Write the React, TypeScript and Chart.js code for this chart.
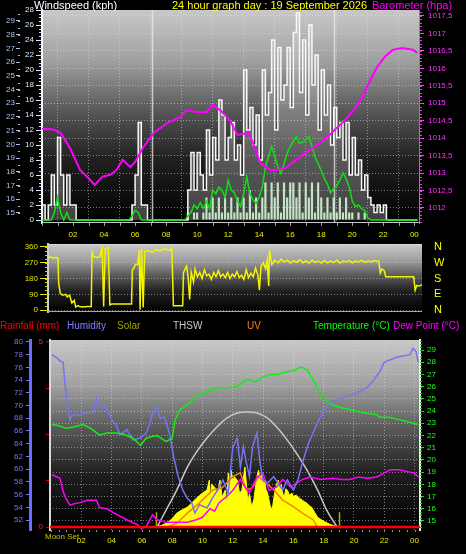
import React, { useEffect, useRef } from "react";
import { Chart, registerables } from "chart.js";

Chart.register(...registerables);

const FONT = "'Liberation Sans', Arial, Helvetica, sans-serif";
Chart.defaults.font.family = FONT;

// ================= TOP PANEL: wind speed (kph) and barometer (hPa) =================
const windStepHours = 0.2; // one reading every 12 minutes, starting at 00:00
const gustKph = [
  2, 0, 2, 6, 2, 11, 6, 2, 6, 2, 2, 0,
  0, 0, 0, 0, 0, 0, 0, 0, 0, 0, 0, 0, 0, 0, 0, 0, 0,
  2, 6, 13, 2, 2,
  0, 0, 0, 0, 0, 0, 0, 0, 0, 0, 0, 0, 0,
  4, 9, 4, 9, 6, 4, 12, 6, 11, 8, 16, 14, 8, 11, 13, 8, 10, 6, 20, 12, 15, 10, 14, 8, 20, 14, 17, 24, 12, 23, 16, 18,
  23, 15, 25, 27.6, 17, 24, 14, 26, 18, 22, 12, 20, 14, 18, 10, 15, 11, 13, 8, 13, 6, 11, 6, 8, 4, 6, 3, 2, 1, 2, 1, 2,
  0, 0, 0, 0, 0, 0, 0, 0, 0, 0, 0,
];
const avgKph = [
  0, 0, 0, 0, 0, 0, 0, 0, 0, 0, 0, 0,
  0, 0, 0, 0, 0, 0, 0, 0, 0, 0, 0, 0, 0, 0, 0, 0, 0,
  0, 0, 0, 0, 0,
  0, 0, 0, 0, 0, 0, 0, 0, 0, 0, 0, 0, 0,
  1, 0, 1, 1, 0, 1,
  3, 1, 3, 1, 3, 1, 3, 1, 3, 1, 3, 1, 3, 1, 4, 1, 3, 1, 3, 5,
  1, 5, 3, 5, 1, 5, 3, 5, 5, 3, 5, 1, 5, 3, 5, 1, 5, 3, 1, 3,
  1, 3, 1, 3, 1, 3, 1, 1, 0, 1, 0, 1,
  0, 0, 0, 0, 0, 0, 0, 0, 0, 0, 0, 0, 0, 0, 0, 0, 0,
];
const speedKph = [
  0, 0, 0, 0, 1, 3, 1, 0, 1, 0, 0, 0,
  0, 0, 0, 0, 0, 0, 0, 0, 0, 0, 0, 0, 0, 0, 0, 0, 0,
  0.5, 1.3, 1, 0, 0,
  0, 0, 0, 0, 0, 0, 0, 0, 0, 0, 0, 0, 0,
  0.5, 1, 2, 1.5, 2.3, 1.5, 2.5, 1.5, 4, 3.5, 4.4, 4, 3, 5.3, 4, 3.6, 2.5, 1.8, 3.5, 5.8,
  3.5, 2.7, 2.2, 3, 4.4, 7, 8.5, 9.8, 8.5, 7.1, 6.2, 7.5, 8.9, 9.8, 10.5, 11.1, 10.2, 10.4, 10.7, 11.1,
  9.8, 8.4, 7.5, 6.6, 5.5, 4.8, 3.6, 4.2, 4.6, 5.3, 6.3, 5.5, 4.4, 2.5, 1.8, 2, 1.5, 1.3, 0.3,
  0, 0, 0, 0, 0, 0, 0, 0, 0, 0, 0, 0, 0, 0, 0, 0,
];
const baroReadings: [number, number][] = [
  [0, 1014.27], [0.7, 1014.25], [1.2, 1014.15], [1.8, 1013.72], [2.45, 1013.09], [2.9, 1012.9],
  [3.4, 1012.66], [3.9, 1012.9], [4.4, 1012.95], [4.8, 1013.09], [5.2, 1013.38], [5.7, 1013.17],
  [6.0, 1013.32], [6.5, 1013.72], [7.2, 1014.15], [8.1, 1014.44], [8.9, 1014.6], [9.3, 1014.8],
  [10.0, 1014.75], [10.6, 1014.75], [11.0, 1014.95], [11.5, 1014.8], [12.1, 1014.52], [12.6, 1014.09],
  [13.0, 1014.12], [13.3, 1014.18], [13.6, 1013.86], [14.06, 1013.29], [14.7, 1013.09], [15.3, 1013.1],
  [15.8, 1013.17], [16.3, 1013.35], [16.8, 1013.52], [17.4, 1013.7], [17.9, 1013.86], [18.5, 1014.08],
  [19.0, 1014.29], [19.6, 1014.55], [20.1, 1014.81], [20.5, 1015.05], [20.8, 1015.32], [21.2, 1015.7],
  [21.6, 1016.04], [22.1, 1016.33], [22.6, 1016.53], [23.2, 1016.58], [23.6, 1016.55], [23.9, 1016.53],
  [24.2, 1016.44],
];
const topDayLines = [7.1, 18.8];

// ================= MIDDLE PANEL: wind direction (degrees) =================
const dirReadings: [number, number][] = [
  [0.06, 300], [0.2, 303], [0.4, 297], [0.6, 300], [0.7, 297], [0.75, 154], [0.85, 95], [1.0, 85], [1.2, 90],
  [1.3, 75], [1.45, 85], [1.6, 40], [1.75, 55], [1.85, 17], [2.0, 25], [2.1, 20], [2.3, 18], [2.6, 20],
  [2.85, 20], [2.9, 330], [3.0, 305], [3.2, 300], [3.4, 305], [3.55, 355], [3.65, 20], [3.75, 350],
  [3.95, 355], [4.05, 30], [4.2, 35], [4.8, 35], [5.45, 35], [5.5, 229], [5.6, 240], [5.7, 262], [5.85, 258],
  [5.95, 345], [6.0, 2], [6.1, 350], [6.2, 15], [6.3, 335], [6.5, 340], [6.8, 330], [7.0, 345], [7.3, 338],
  [7.6, 350], [7.9, 340], [8.05, 355], [8.15, 25], [8.5, 25], [8.75, 25], [8.8, 215], [9.0, 250], [9.1, 190],
  [9.2, 60], [9.3, 215], [9.45, 160], [9.55, 235], [9.7, 190], [9.85, 215], [10.0, 180], [10.15, 230],
  [10.3, 195], [10.45, 205], [10.6, 175], [10.75, 215], [10.9, 190], [11.05, 225], [11.2, 190], [11.35, 205],
  [11.5, 185], [11.65, 215], [11.8, 180], [11.95, 205], [12.1, 190], [12.25, 220], [12.4, 185], [12.55, 200],
  [12.7, 175], [12.85, 230], [13.0, 185], [13.15, 210], [13.3, 190], [13.45, 240], [13.6, 200], [13.7, 114],
  [13.8, 250], [13.95, 270], [14.1, 235], [14.2, 285], [14.3, 137], [14.35, 343], [14.5, 260], [14.7, 285],
  [14.9, 270], [15.1, 290], [15.3, 275], [15.5, 285], [15.7, 268], [15.9, 282], [16.1, 272], [16.3, 288],
  [16.5, 270], [16.7, 280], [16.9, 268], [17.1, 285], [17.3, 272], [17.5, 280], [17.7, 268], [17.9, 283],
  [18.1, 270], [18.3, 280], [18.5, 272], [18.7, 285], [18.9, 268], [19.1, 280], [19.3, 275], [19.5, 282],
  [19.7, 270], [19.9, 280], [20.1, 275], [20.3, 285], [20.5, 272], [20.7, 280], [20.9, 275], [21.1, 283],
  [21.3, 278], [21.4, 280], [21.5, 212], [21.6, 235], [21.75, 225], [21.85, 190], [22.5, 190], [23.2, 190],
  [23.65, 190], [23.75, 114], [23.85, 140], [24.0, 137], [24.2, 145],
];
const compassLabels: Record<number, string> = { 0: "N", 90: "E", 180: "S", 270: "W", 360: "N" };

// ================= BOTTOM PANEL =================
const humidityReadings: [number, number][] = [
  [0.05, 78], [0.4, 77.5], [0.6, 77], [0.8, 76.8], [0.9, 74], [1.0, 72], [1.1, 70], [1.25, 67.7], [1.4, 68.5],
  [2.0, 68.5], [2.1, 68.8], [2.8, 68.8], [2.9, 70], [3.0, 71], [3.1, 69.8], [3.6, 69.8], [3.8, 68.8],
  [4.1, 67.4], [4.3, 67], [4.55, 65.4], [5.0, 66.2], [5.4, 64.6], [5.9, 64.9], [6.3, 65.7], [6.5, 67],
  [6.7, 68.8], [7.0, 69.8], [7.2, 68], [7.5, 68.2], [7.85, 65.4], [8.1, 61.9], [8.4, 58.8], [8.7, 56.7],
  [9.0, 55.4], [9.3, 54.7], [9.5, 53.1], [9.8, 54.4], [10.3, 53.9], [10.7, 55.6], [11.0, 56.7], [11.35, 58.3],
  [11.7, 56.2], [12.0, 63.5], [12.3, 64.9], [12.5, 60.3], [12.7, 63.5], [12.9, 61], [13.1, 58.8], [13.3, 63.5],
  [13.6, 65.7], [13.8, 61], [14.0, 58.3], [14.3, 57.8], [14.7, 58.8], [15.0, 57.8], [15.3, 56.7], [15.6, 58.3],
  [16.0, 56.7], [16.3, 58.3], [16.6, 61], [17.0, 64.1], [17.3, 65.7], [17.6, 67.3], [17.95, 69], [18.4, 70.4],
  [18.9, 70.9], [19.5, 71.4], [20.2, 72], [20.9, 72.9], [21.3, 74], [21.7, 75.3], [22.0, 76.8], [22.8, 77.6],
  [23.7, 78], [23.9, 79], [24.1, 78.5], [24.25, 76.8],
];
const temperatureReadings: [number, number][] = [
  [0.05, 22.9], [0.5, 22.8], [1.0, 22.6], [1.5, 22.7], [2.1, 22.9], [2.6, 22.6], [3.2, 22.05], [3.7, 22.2],
  [4.3, 22.2], [4.8, 22.1], [5.4, 21.8], [5.9, 21.2], [6.3, 21.8], [7.0, 22.0], [7.6, 21.5], [8.0, 21.8],
  [8.2, 23.3], [8.5, 24.1], [9.0, 24.5], [9.6, 25.2], [10.3, 25.6], [10.9, 25.9], [11.6, 25.9], [12.3, 26.0],
  [12.9, 26.6], [13.5, 26.4], [14.0, 26.8], [14.5, 27.0], [15.0, 27.0], [15.5, 27.2], [16.0, 27.3], [16.5, 27.6],
  [16.9, 27.4], [17.3, 26.6], [17.6, 25.8], [17.9, 25.2], [18.2, 24.8], [18.6, 24.5], [19.1, 24.3], [19.8, 24.1],
  [20.4, 23.9], [21.5, 23.7], [21.7, 23.5], [22.3, 23.5], [23.0, 23.3], [23.6, 23.1], [24.25, 22.9],
];
const dewPointReadings: [number, number][] = [
  [0.05, 18.8], [0.4, 18.6], [0.6, 18.5], [0.8, 17.4], [1.0, 16.8], [1.25, 16.3], [1.5, 16.4], [1.9, 16.5],
  [2.4, 16.7], [3.0, 16.7], [3.2, 16.1], [3.7, 16.0], [4.1, 15.7], [4.4, 15.5], [5.0, 15.1], [5.7, 14.7],
  [6.0, 14.4], [6.3, 14.6], [6.7, 15.5], [7.0, 15.1], [7.6, 14.9], [8.3, 14.9], [9.0, 14.9], [9.6, 15.1],
  [10.0, 15.3], [10.5, 16.0], [10.8, 15.8], [11.1, 16.5], [11.6, 17.0], [12.0, 17.5], [12.5, 18.4], [12.8, 17.8],
  [13.1, 17.3], [13.6, 18.6], [14.0, 18.9], [14.4, 17.5], [14.9, 17.8], [15.3, 18.4], [15.8, 17.8], [16.2, 18.1],
  [16.6, 18.4], [17.1, 18.6], [17.8, 18.4], [18.6, 18.5], [19.2, 18.4], [19.7, 18.4], [20.3, 18.6], [20.9, 18.5],
  [21.5, 18.6], [21.8, 18.8], [22.4, 19.2], [23.0, 19.2], [23.7, 19.0], [24.0, 18.9], [24.25, 18.6],
];
const solarReadings: [number, number][] = [
  [0, 0], [6.8, 0], [7.0, 5], [7.3, 10], [7.6, 21], [8.0, 45], [8.3, 75], [8.6, 90], [9.0, 107], [9.3, 130],
  [9.6, 155], [10.0, 182], [10.3, 198], [10.45, 251], [10.5, 144], [10.6, 230], [10.8, 214], [11.0, 180],
  [11.15, 251], [11.3, 160], [11.5, 198], [11.6, 120], [11.7, 289], [11.8, 200], [11.9, 305], [12.0, 240],
  [12.1, 270], [12.3, 251], [12.45, 180], [12.6, 198], [12.7, 260], [12.8, 321], [12.9, 230], [13.0, 128],
  [13.1, 180], [13.25, 107], [13.4, 150], [13.5, 214], [13.6, 270], [13.7, 305], [13.8, 260], [13.9, 289],
  [14.0, 230], [14.1, 251], [14.2, 200], [14.3, 182], [14.45, 120], [14.6, 91], [14.7, 150], [14.8, 198],
  [14.9, 230], [15.0, 251], [15.1, 200], [15.2, 230], [15.3, 180], [15.4, 160], [15.5, 205], [15.6, 198],
  [15.75, 170], [15.9, 182], [16.0, 165], [16.2, 171], [16.4, 155], [16.6, 144], [16.75, 135], [16.9, 128],
  [17.05, 115], [17.2, 107], [17.4, 80], [17.6, 53], [17.75, 45], [17.9, 37], [18.1, 28], [18.4, 16],
  [18.7, 8], [18.9, 3], [19.0, 0], [24.4, 0],
];
const uvReadings: [number, number][] = [
  [7.6, 0], [8.3, 0.2], [9.0, 0.75], [9.8, 1.3], [10.7, 2.0], [11.3, 2.1], [12.0, 2.7], [12.5, 2.9], [12.9, 2.0],
  [13.3, 2.1], [13.7, 2.7], [14.0, 2.5], [14.7, 2.0], [15.3, 1.45], [16.0, 1.1], [16.6, 0.75], [17.3, 0.4], [17.6, 0],
];
const thswReadings: [number, number][] = [
  [7.0, 0], [7.6, 91], [8.3, 198], [9.0, 321], [9.6, 401], [10.3, 476], [10.95, 535], [11.6, 583], [12.3, 610],
  [12.9, 615], [13.6, 610], [14.3, 583], [14.9, 535], [15.6, 465], [16.2, 396], [16.9, 305], [17.6, 198],
  [18.2, 91], [18.9, 0],
];
const rainReadings: [number, number][] = [[-0.2, 0], [24.5, 0]];
const sunMarkHours = [6.9, 19.0];
const sunMarkHeight = 80;

// ================= helpers =================
const pts = (r: [number, number][]) => r.map(([x, y]) => ({ x, y }));
const stepPts = (vals: number[]) => vals.map((y, i) => ({ x: i * windStepHours, y }));
const hourLabel = (v: any) => (v === 0 ? "" : String(Number(v) % 24).padStart(2, "0"));
const tickFont = { family: FONT, size: 8 };

const bgPlugin = {
  id: "panelBg",
  beforeDraw(chart: any) {
    const { ctx, chartArea: a } = chart;
    const g = ctx.createLinearGradient(0, a.top, 0, a.bottom);
    g.addColorStop(0, "rgb(200,200,200)");
    g.addColorStop(0.24, "rgb(160,160,160)");
    g.addColorStop(0.47, "rgb(88,88,88)");
    g.addColorStop(0.7, "rgb(32,32,32)");
    g.addColorStop(1, "rgb(0,0,0)");
    ctx.save();
    ctx.fillStyle = g;
    ctx.fillRect(a.left, a.top, a.right - a.left, a.bottom - a.top);
    ctx.restore();
  },
};

const vlinesPlugin = {
  id: "vlines",
  beforeDatasetsDraw(chart: any, _a: any, opts: any) {
    const { ctx, chartArea: a } = chart;
    (opts.lines || []).forEach((l: any) => {
      const x = Math.round(chart.scales.x.getPixelForValue(l.x)) + 0.5;
      const ys = l.yAxis ? chart.scales[l.yAxis] : null;
      const y0 = ys ? ys.getPixelForValue(l.from) : a.top;
      const y1 = ys ? ys.getPixelForValue(l.to) : a.bottom;
      ctx.save();
      ctx.strokeStyle = l.color;
      ctx.lineWidth = l.width || 1;
      ctx.beginPath();
      ctx.moveTo(x, y0);
      ctx.lineTo(x, y1);
      ctx.stroke();
      ctx.restore();
    });
  },
};

const framePlugin = {
  id: "frame",
  afterDatasetsDraw(chart: any, _a: any, opts: any) {
    const { ctx, chartArea: a } = chart;
    ctx.save();
    ctx.lineWidth = 1;
    if (opts.top) { ctx.strokeStyle = opts.top; ctx.beginPath(); ctx.moveTo(a.left, a.top + 0.5); ctx.lineTo(a.right, a.top + 0.5); ctx.stroke(); }
    if (opts.bottom) { ctx.strokeStyle = opts.bottom; ctx.beginPath(); ctx.moveTo(a.left, a.bottom - 0.5); ctx.lineTo(a.right, a.bottom - 0.5); ctx.stroke(); }
    ctx.restore();
  },
};

const minorTicksPlugin = {
  id: "minorTicks",
  afterDraw(chart: any, _a: any, opts: any) {
    const ctx = chart.ctx;
    (opts.items || []).forEach((it: any) => {
      const s = chart.scales[it.axis];
      if (!s) return;
      ctx.save();
      ctx.strokeStyle = it.color;
      ctx.lineWidth = 1;
      ctx.beginPath();
      const n = Math.round((it.to - it.from) / it.step);
      for (let k = 0; k <= n; k++) {
        const v = it.from + k * it.step;
        const p = Math.round(s.getPixelForValue(v)) + 0.5;
        if (s.isHorizontal()) { ctx.moveTo(p, s.top); ctx.lineTo(p, s.top + it.len); }
        else if (s.position === "left") { ctx.moveTo(s.right - it.len, p); ctx.lineTo(s.right, p); }
        else { ctx.moveTo(s.left, p); ctx.lineTo(s.left + it.len, p); }
      }
      ctx.stroke();
      ctx.restore();
    });
  },
};

const plugins = [bgPlugin, vlinesPlugin, framePlugin, minorTicksPlugin];
const gridCol = "rgba(228,228,228,0.5)";

function topConfig(): any {
  return {
    type: "line",
    data: {
      datasets: [
        { type: "bar", label: "Average", data: stepPts(avgKph), yAxisID: "wind", backgroundColor: "rgba(200,245,200,0.92)", barPercentage: 1, categoryPercentage: 0.7, order: 4 },
        { label: "Gust", data: stepPts(gustKph), yAxisID: "wind", borderColor: "#f8f8f8", backgroundColor: "rgba(235,235,235,0.28)", fill: "origin", borderWidth: 1.5, stepped: true, pointRadius: 0, order: 3 },
        { label: "Speed", data: stepPts(speedKph), yAxisID: "wind", borderColor: "#10e010", borderWidth: 1.5, pointRadius: 0, order: 2 },
        { label: "Barometer", data: pts(baroReadings), yAxisID: "baro", borderColor: "#ff00ff", borderWidth: 2, pointRadius: 0, order: 1 },
      ],
    },
    options: {
      responsive: false, animation: false, maintainAspectRatio: false,
      layout: { padding: { top: 10, left: 0, right: 0, bottom: 0 } },
      plugins: {
        legend: { display: false }, tooltip: { enabled: false },
        vlines: { lines: topDayLines.map((x) => ({ x, color: "rgba(235,235,235,0.75)", width: 1.5 })) },
        frame: { bottom: "#c8c8c8" },
        minorTicks: {
          items: [
            { axis: "x", from: 0, to: 24, step: 1, len: 3, color: "#a0a0a0" },
            { axis: "wind", from: 0, to: 28, step: 0.5, len: 3, color: "#d0d8ff" },
            { axis: "outer", from: 15, to: 29.5, step: 0.5, len: 2, color: "#a8c0ea" },
            { axis: "baro", from: 1011.6, to: 1017.6, step: 0.1, len: 3, color: "#e040e0" },
          ],
        },
      },
      scales: {
        x: {
          type: "linear", min: 0, max: 24.3, offset: false,
          ticks: { stepSize: 2, includeBounds: false, autoSkip: false, maxRotation: 0, padding: 7, color: "#f0f000", font: tickFont, callback: hourLabel },
          grid: { color: gridCol, drawTicks: false },
          border: { display: false, dash: [1, 2] },
          afterFit: (s: any) => { s.height = 19; },
        },
        outer: {
          type: "linear", position: "left", weight: 1, min: 14.27, max: 29.8,
          ticks: { stepSize: 1, includeBounds: false, autoSkip: false, padding: 1, color: "#a8c4ee", font: tickFont },
          grid: { drawOnChartArea: false, tickLength: 4, color: "#a8c4ee" },
          border: { display: false },
          afterFit: (s: any) => { s.width = 20; },
        },
        wind: {
          type: "linear", position: "left", weight: 0, min: -0.4, max: 28,
          ticks: { stepSize: 2, includeBounds: false, autoSkip: false, padding: 2, color: "#e2e8ff", font: tickFont },
          grid: { drawOnChartArea: false, tickLength: 6, color: "#e2e8ff" },
          border: { display: true, color: "#ffffff", width: 2 },
          afterFit: (s: any) => { s.width = 22; },
        },
        baro: {
          type: "linear", position: "right", min: 1011.57, max: 1017.67,
          ticks: { stepSize: 0.5, includeBounds: false, autoSkip: false, padding: 4, color: "#ff30ff", font: tickFont, callback: (v: any) => String(Math.round(Number(v) * 10) / 10).replace(".", ",") },
          grid: { color: gridCol, tickColor: "#ff40ff", tickLength: 5 },
          border: { display: true, color: "#e050e0", width: 1, dash: [1, 2] },
          afterFit: (s: any) => { s.width = 47; },
        },
      },
    },
    plugins,
  };
}

function midConfig(): any {
  return {
    type: "line",
    data: {
      datasets: [
        { label: "Direction", data: pts(dirReadings), yAxisID: "dir", borderColor: "#f4f400", borderWidth: 1.5, pointRadius: 0 },
      ],
    },
    options: {
      responsive: false, animation: false, maintainAspectRatio: false,
      layout: { padding: { top: 7, bottom: 7, left: 0, right: 0 } },
      plugins: {
        legend: { display: false }, tooltip: { enabled: false },
        frame: { top: "#d8d8d8", bottom: "#a8a8a8" },
        minorTicks: { items: [{ axis: "dir", from: 0, to: 360, step: 22.5, len: 3, color: "#d8d800" }] },
      },
      scales: {
        x: { type: "linear", display: false, min: 0.06, max: 24.19, offset: false },
        dir: {
          type: "linear", position: "left", min: -11, max: 377,
          ticks: { stepSize: 90, includeBounds: false, autoSkip: false, padding: 2, color: "#e4e400", font: tickFont },
          grid: { color: gridCol, tickColor: "#e4e400", tickLength: 8 },
          border: { display: true, color: "#d0d0d0", width: 2, dash: [1, 2] },
          afterFit: (s: any) => { s.width = 48; },
        },
        compass: {
          type: "linear", position: "right", min: -11, max: 377,
          ticks: { stepSize: 90, includeBounds: false, autoSkip: false, padding: 0, color: "#ffff00", font: { family: FONT, size: 11 }, callback: (v: any) => compassLabels[Number(v)] ?? "" },
          grid: { display: true, drawOnChartArea: false, drawTicks: true, tickLength: 12, color: "rgba(0,0,0,0)" },
          border: { display: false },
          afterFit: (s: any) => { s.width = 44; },
        },
      },
    },
    plugins,
  };
}

function botConfig(): any {
  return {
    type: "line",
    data: {
      datasets: [
        { label: "Solar", data: pts(solarReadings), yAxisID: "solar", borderColor: "#ffff00", backgroundColor: "#ffff00", borderWidth: 1, fill: "origin", pointRadius: 0, order: 10 },
        { label: "THSW", data: pts(thswReadings), yAxisID: "solar", borderColor: "#c8c8c8", borderWidth: 1.5, cubicInterpolationMode: "monotone", pointRadius: 0, order: 9 },
        { label: "UV", data: pts(uvReadings), yAxisID: "uv", borderColor: "#ff8000", borderWidth: 1.5, pointRadius: 0, order: 5 },
        { label: "Dew Point", data: pts(dewPointReadings), yAxisID: "temp", borderColor: "#ff00ff", borderWidth: 1.5, pointRadius: 0, order: 4 },
        { label: "Humidity", data: pts(humidityReadings), yAxisID: "hum", borderColor: "#7474f4", borderWidth: 1.5, pointRadius: 0, order: 3 },
        { label: "Temperature", data: pts(temperatureReadings), yAxisID: "temp", borderColor: "#10f010", borderWidth: 1.5, pointRadius: 0, order: 2 },
        { label: "Rainfall", data: pts(rainReadings), yAxisID: "rain", borderColor: "#ff0000", borderWidth: 2.5, pointRadius: 0, order: 1 },
      ],
    },
    options: {
      responsive: false, animation: false, maintainAspectRatio: false,
      layout: { padding: { top: 8, left: 0, right: 0, bottom: 0 } },
      plugins: {
        legend: { display: false }, tooltip: { enabled: false },
        vlines: { lines: sunMarkHours.map((x) => ({ x, yAxis: "solar", from: 0, to: sunMarkHeight, color: "#b0a800", width: 1.5 })) },
        minorTicks: {
          items: [
            { axis: "x", from: 0, to: 24, step: 0.5, len: 2, color: "#909090" },
            { axis: "temp", from: 14.5, to: 29.75, step: 0.25, len: 2, color: "#20c020" },
          ],
        },
      },
      scales: {
        x: {
          type: "linear", min: -0.066, max: 24.36, offset: false,
          ticks: { stepSize: 2, includeBounds: false, autoSkip: false, maxRotation: 0, padding: 6, color: "#ecec00", font: tickFont, callback: hourLabel },
          grid: { color: gridCol, drawTicks: false },
          border: { display: false, dash: [1, 2] },
          afterFit: (s: any) => { s.height = 24; },
        },
        hum: {
          type: "linear", position: "left", weight: 1, min: 50.43, max: 80.31,
          ticks: { stepSize: 2, includeBounds: false, autoSkip: false, padding: 3, color: "#7878ff", font: tickFont },
          grid: { drawOnChartArea: false, tickLength: 4, color: "#7878ff" },
          border: { display: true, color: "#6c6cff", width: 3 },
          afterFit: (s: any) => { s.width = 30; },
        },
        rain: {
          type: "linear", position: "left", weight: 0, min: -0.081, max: 5.054,
          ticks: { stepSize: 1.25, includeBounds: false, autoSkip: false, padding: 3, color: "#ff2020", font: tickFont, callback: (v: any) => (Number(v) === 0 || Number(v) === 5 ? String(v) : "") },
          grid: { drawOnChartArea: false, tickLength: 4, color: "#e00000" },
          border: { display: true, color: "#d8d8d8", width: 2 },
          afterFit: (s: any) => { s.width = 20; },
        },
        temp: {
          type: "linear", position: "right", min: 14.26, max: 29.82,
          ticks: { stepSize: 1, includeBounds: false, autoSkip: false, padding: 3, color: "#20ff20", font: tickFont },
          grid: { color: gridCol, tickColor: "#20e020", tickLength: 4 },
          border: { display: true, color: "#e0ffe0", width: 2, dash: [1, 2] },
          afterFit: (s: any) => { s.width = 46; },
        },
        solar: { type: "linear", display: false, min: -15, max: 1000 },
        uv: { type: "linear", display: false, min: -0.15, max: 10 },
      },
    },
    plugins,
  };
}

const txt = (left: number, top: number, color: string, size: number): React.CSSProperties => ({
  position: "absolute", left, top, color, fontSize: size, lineHeight: `${size + 2}px`, whiteSpace: "nowrap", fontFamily: FONT,
});

export default function App() {
  const topRef = useRef<HTMLCanvasElement>(null);
  const midRef = useRef<HTMLCanvasElement>(null);
  const botRef = useRef<HTMLCanvasElement>(null);

  useEffect(() => {
    const charts = [
      new Chart(topRef.current as HTMLCanvasElement, topConfig()),
      new Chart(midRef.current as HTMLCanvasElement, midConfig()),
      new Chart(botRef.current as HTMLCanvasElement, botConfig()),
    ];
    return () => charts.forEach((c) => c.destroy());
  }, []);

  return (
    <div style={{ position: "absolute", left: 0, top: 0, width: 466, height: 554, background: "#000", overflow: "hidden" }}>
      <canvas ref={topRef} width={466} height={242} style={{ position: "absolute", left: 0, top: 0, width: 466, height: 242 }} />
      <canvas ref={midRef} width={466} height={82} style={{ position: "absolute", left: 0, top: 237, width: 466, height: 82 }} />
      <canvas ref={botRef} width={466} height={222} style={{ position: "absolute", left: 0, top: 332, width: 466, height: 222 }} />

      <div style={txt(34, -1, "#ffffff", 11)}>Windspeed (kph)</div>
      <div style={txt(172, -1, "#ffff00", 11)}>24 hour graph day : 19 September 2026</div>
      <div style={txt(372, -1, "#ff00ff", 11)}>Barometer (hpa)</div>

      <div style={txt(0, 320, "#ff0000", 10)}>Rainfall (mm)</div>
      <div style={txt(67, 320, "#8080ff", 10)}>Humidity</div>
      <div style={txt(117, 320, "#a0a000", 10)}>Solar</div>
      <div style={txt(173, 320, "#c8c8c8", 10)}>THSW</div>
      <div style={txt(247, 320, "#ff8000", 10)}>UV</div>
      <div style={txt(313, 320, "#00ff00", 10)}>Temperature (°C)</div>
      <div style={txt(393, 320, "#ff00ff", 10)}>Dew Point (°C)</div>

      <div style={txt(45, 532, "#c8c800", 8)}>Moon Set</div>
    </div>
  );
}
